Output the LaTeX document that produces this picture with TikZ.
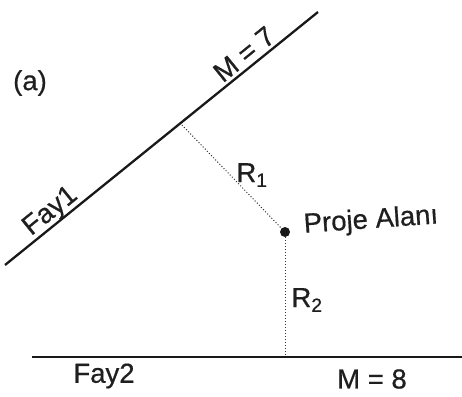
\documentclass[tikz,border=0pt]{standalone}
\usepackage{fontspec}
\setmainfont{Liberation Sans}[FakeBold=0.6,BoldFont={Liberation Sans}]
\begin{document}
\begin{tikzpicture}[x=1pt,y=-1pt,
  fault/.style={line width=2.3pt,black!90},
  dist/.style={line width=1pt,dotted,black!80},
  lbl/.style={font=\fontsize{27.5}{29}\selectfont\bfseries,inner sep=0pt,text=black!88},
  site/.style={circle,fill=black!90,minimum size=10pt,inner sep=0pt}]
\useasboundingbox (0,0) rectangle (462,396);
\coordinate (f1a) at (5,265);
\coordinate (f1b) at (318,12);
\coordinate (foot1) at (182,125);
\node[site] (site) at (285,232) {};
\coordinate (f2a) at (32,357);
\coordinate (f2b) at (462,357);
\coordinate (foot2) at (285,357);
\draw[fault] (f1a) -- (f1b);
\draw[fault] (f2a) -- (f2b);
\draw[dist] (foot1) -- (site);
\draw[dist] (site) -- (foot2);
\node[lbl] (a) at (30,83) {(a)};
\node[lbl,rotate=39,anchor=base] (m7) at (250,61.5) {M = 7};
\node[lbl,rotate=39,anchor=base] (fay1) at (55,217) {Fay1};
\node[lbl] (r1) at (252,175) {R\textsubscript{1}};
\node[lbl,rotate=4] (proje) at (371,221) {Proje Alanı};
\node[lbl] (r2) at (307,300) {R\textsubscript{2}};
\node[lbl] (fay2) at (104,376) {Fay2};
\node[lbl] (m8) at (372,379) {M = 8};
\end{tikzpicture}
\end{document}
